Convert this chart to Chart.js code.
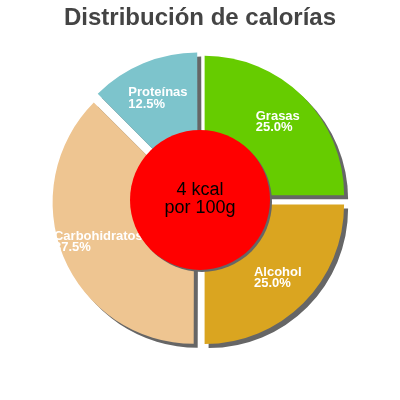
<!DOCTYPE html>
<html><head><meta charset="utf-8">
<script src="https://cdn.jsdelivr.net/npm/chart.js@4"></script>
<style>html,body{margin:0;padding:0;background:#fff}#wrap{width:400px;height:400px}</style>
</head><body><div id="wrap"><canvas id="c" width="400" height="400"></canvas></div>
<script>
const categories = ['Grasas', 'Alcohol', 'Carbohidratos', 'Proteínas'];
const values = [25.0, 25.0, 37.5, 12.5];
const percentLabels = ['25.0%', '25.0%', '37.5%', '12.5%'];
const colors = ['#66cc00', '#daa520', '#eec591', '#7dc4cc'];
const titleText = 'Distribución de calorías';
const centerLines = ['4 kcal', 'por 100g'];

const FONT = '"Liberation Sans", Arial, sans-serif';

const decorPlugin = {
  id: 'decor',
  beforeDatasetsDraw(chart) {
    const ctx = chart.ctx;
    ctx.save();
    ctx.shadowColor = '#666666';
    ctx.shadowOffsetX = 4;
    ctx.shadowOffsetY = 4;
    ctx.shadowBlur = 0;
  },
  afterDatasetsDraw(chart) {
    const ctx = chart.ctx;
    ctx.restore();
    const meta = chart.getDatasetMeta(0);
    const ca = chart.chartArea;
    const cx = (ca.left + ca.right) / 2;
    const cy = (ca.top + ca.bottom) / 2;
    // slice labels
    ctx.save();
    ctx.font = 'bold 13px ' + FONT;
    ctx.fillStyle = '#ffffff';
    ctx.textAlign = 'left';
    ctx.textBaseline = 'middle';
    meta.data.forEach((arc, i) => {
      const mid = (arc.startAngle + arc.endAngle) / 2;
      const d = 110;
      const px = cx + Math.cos(mid) * d;
      const py = cy + Math.sin(mid) * d;
      const lines = [categories[i], percentLabels[i]];
      const w = Math.max(...lines.map(l => ctx.measureText(l).width));
      const lh = 11.5;
      const x0 = px - w / 2;
      const y0 = py - lh / 2;
      lines.forEach((l, k) => ctx.fillText(l, x0, y0 + k * lh));
    });
    ctx.restore();
    // center circle
    ctx.save();
    ctx.shadowColor = '#666666';
    ctx.shadowOffsetX = 2;
    ctx.shadowOffsetY = 2;
    ctx.shadowBlur = 0;
    ctx.fillStyle = '#ff0000';
    ctx.beginPath();
    ctx.arc(cx, cy, 70, 0, Math.PI * 2);
    ctx.fill();
    ctx.restore();
    ctx.save();
    ctx.font = '18px ' + FONT;
    ctx.fillStyle = '#000000';
    ctx.textAlign = 'center';
    ctx.textBaseline = 'middle';
    ctx.fillText(centerLines[0], cx, cy - 10);
    ctx.fillText(centerLines[1], cx, cy + 8);
    ctx.restore();
  }
};

new Chart(document.getElementById('c'), {
  type: 'pie',
  data: {
    labels: categories,
    datasets: [{
      data: values,
      backgroundColor: colors,
      borderWidth: 0,
      offset: 26,
      hoverOffset: 0
    }]
  },
  options: {
    responsive: false,
    animation: false,
    events: [],
    radius: 139.5,
    layout: { padding: { bottom: 33 } },
    plugins: {
      legend: { display: false },
      tooltip: { enabled: false },
      title: {
        display: true,
        text: titleText,
        color: '#444444',
        font: { family: FONT, size: 24, weight: 'bold', lineHeight: 1.2 },
        padding: { top: 4, bottom: 0 }
      }
    }
  },
  plugins: [decorPlugin]
});
</script>
</body></html>
